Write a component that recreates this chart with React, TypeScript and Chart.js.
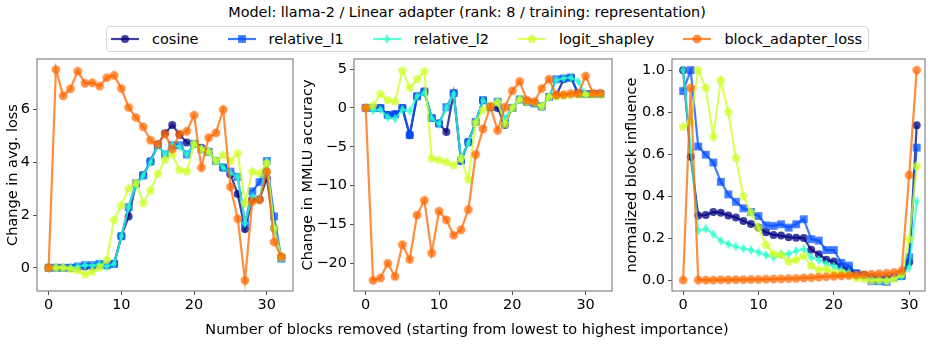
import React, { useEffect, useRef } from "react";
import { Chart, registerables } from "chart.js";

Chart.register(...registerables);

// ---------------- data ----------------
const blocks33 = Array.from({ length: 33 }, (_, i) => i);
const blocks32 = Array.from({ length: 32 }, (_, i) => i);

const seriesNames = ["cosine", "relative_l1", "relative_l2", "logit_shapley", "block_adapter_loss"];

// Panel 1: Change in avg. loss
const lossCosine = [0, 0, 0, 0, 0, 0.05, 0.05, 0.1, 0.1, 0.15, 1.2, 1.95, 3.18, 3.52, 4.03, 4.68, 5.1, 5.42, 5.05, 4.75, 4.7, 4.55, 4.4, 4.05, 3.8, 3.55, 2.8, 1.47, 2.6, 2.6, 3.4, 1.5, 0.4];
const lossL1 = [0, 0, 0, 0, 0.05, 0.1, 0.1, 0.15, 0.1, 0.15, 1.2, 2.3, 3.2, 3.5, 4.03, 4.65, 4.3, 4.65, 4.65, 4.3, 4.7, 4.5, 4.4, 4.05, 3.8, 3.65, 3.45, 1.7, 2.9, 3.25, 4.05, 1.95, 0.35];
const lossL2 = [0, 0, 0, 0, 0.05, 0.1, 0.08, 0.15, 0.05, 0.15, 1.2, 2.3, 3.15, 3.5, 4.0, 4.65, 4.3, 4.65, 4.6, 4.3, 4.7, 4.5, 4.4, 4.05, 3.8, 3.6, 3.45, 1.7, 2.7, 2.6, 4.0, 1.5, 0.35];
const lossShapley = [0, 0, 0, -0.05, -0.1, -0.25, -0.15, 0, 0.3, 1.82, 2.36, 3.0, 3.22, 2.45, 2.93, 3.56, 4.1, 4.3, 3.71, 3.65, 4.7, 4.5, 4.4, 4.05, 4.28, 4.05, 4.34, 2.45, 3.65, 3.57, 3.97, 1.5, 0.4];
const lossBlock = [0, 7.52, 6.52, 6.79, 7.46, 7.0, 7.02, 6.89, 7.21, 7.3, 6.8, 6.08, 5.7, 5.35, 4.84, 4.68, 5.07, 4.5, 5.07, 5.18, 5.79, 3.8, 4.94, 5.12, 6.0, 3.07, 1.86, -0.48, 2.52, 2.57, 3.65, 0.98, 0.42];

// Panel 2: Change in MMLU accuracy
const mmluCosine = [0, 0, 0, -0.9, -0.8, 0, -3.5, 1.5, 2.1, -1.3, -2.0, -3.1, 1.9, -6.8, -4.4, -1.8, 1.0, 0.1, 0.0, -2.2, 0, 1.1, 0.8, 0.6, 0.2, 1.4, 1.6, 3.7, 3.9, 1.8, 1.8, 1.8, 1.8];
const mmluL1 = [0, 0, 0, -0.9, -0.8, 0, -3.5, 1.5, 2.1, -1.3, -2.0, 0.1, 1.9, -6.8, -4.4, -1.8, 1.0, 0.1, 0.8, -1.5, 0, 1.1, 0.8, 0.6, 0.2, 1.4, 3.7, 3.8, 3.9, 1.9, 1.8, 1.8, 1.8];
const mmluL2 = [0, -0.3, -0.2, -1.2, -1.4, -0.2, -0.4, 1.5, 2.0, -1.3, -2.1, 0.0, 1.8, -6.6, -4.5, -1.8, 1.0, 0.1, 0.8, -1.4, 0.0, 1.1, 0.8, 0.6, 0.2, 1.4, 3.6, 3.8, 3.9, 3.4, 1.8, 1.8, 1.8];
const mmluShapley = [0, 0.3, 1.8, 1.0, 0.8, 4.8, 2.6, 3.7, 4.7, -6.5, -6.7, -7.0, -7.4, -6.5, -9.2, -1.9, -0.3, 0.2, 0.7, -2.1, 0.0, 1.1, 0.8, 0.7, 0.2, 1.4, 1.5, 1.6, 1.7, 1.7, 1.7, 1.7, 1.7];
const mmluBlock = [0, -22.2, -21.9, -20.0, -21.7, -17.6, -19.5, -13.8, -11.9, -18.7, -13.3, -14.4, -16.4, -15.7, -13.1, -6.0, -2.7, 0.2, -2.9, 0.1, 2.2, 3.4, 1.0, 0.8, 2.5, 3.7, 1.7, 1.7, 1.85, 1.9, 4.1, 1.9, 1.9];

// Panel 3: normalized block influence
const inflCosine = [1.0, 0.587, 0.308, 0.31, 0.324, 0.321, 0.308, 0.298, 0.281, 0.267, 0.251, 0.228, 0.215, 0.212, 0.204, 0.202, 0.2, 0.145, 0.123, 0.097, 0.088, 0.065, 0.05, 0.03, 0.024, 0.013, 0.008, 0.008, 0.013, 0.02, 0.085, 0.737];
const inflL1 = [0.9, 1.0, 0.636, 0.597, 0.56, 0.468, 0.408, 0.373, 0.342, 0.324, 0.305, 0.261, 0.258, 0.266, 0.25, 0.266, 0.29, 0.195, 0.188, 0.143, 0.143, 0.082, 0.069, 0.033, 0.022, -0.005, -0.005, -0.008, 0.014, 0.02, 0.109, 0.631];
const inflL2 = [1.0, 0.62, 0.235, 0.245, 0.219, 0.187, 0.171, 0.16, 0.151, 0.143, 0.132, 0.12, 0.108, 0.124, 0.124, 0.14, 0.148, 0.109, 0.096, 0.077, 0.065, 0.047, 0.036, 0.02, 0.016, 0.01, 0.0, -0.003, 0.01, 0.016, 0.06, 0.375];
const inflShapley = [0.73, 0.753, 1.0, 0.915, 0.683, 0.951, 0.8, 0.581, 0.4, 0.321, 0.25, 0.167, 0.124, 0.12, 0.088, 0.096, 0.115, 0.068, 0.049, 0.052, 0.036, 0.033, 0.024, 0.009, 0.005, -0.003, 0.0, -0.003, 0.005, 0.028, 0.194, 0.543];
const inflBlock = [0.0, 0.915, 0.0, 0.0, 0.0, 0.001, 0.001, 0.002, 0.002, 0.003, 0.003, 0.004, 0.005, 0.006, 0.007, 0.008, 0.01, 0.012, 0.014, 0.016, 0.018, 0.02, 0.022, 0.024, 0.026, 0.028, 0.03, 0.032, 0.036, 0.045, 0.5, 1.0];

const xTicks = [0, 10, 20, 30];
const lossTicks = [0, 2, 4, 6];
const mmluTicks = [-20, -15, -10, -5, 0, 5];
const inflTicks = [0.0, 0.2, 0.4, 0.6, 0.8, 1.0];

const titleText = "Model: llama-2 / Linear adapter (rank: 8 / training: representation)";
const xLabelText = "Number of blocks removed (starting from lowest to highest importance)";

// ---------------- style ----------------
const FONT = "'DejaVu Sans', sans-serif";
const FS = 14.5;
const ALPHA = 0.75;
const baseRGB = [
  [0, 0, 128],
  [0, 77, 255],
  [41, 255, 206],
  [206, 255, 41],
  [255, 104, 0],
];
const rgba = (c: number[], a: number) => `rgba(${c[0]},${c[1]},${c[2]},${a})`;
const colors = baseRGB.map((c) => rgba(c, ALPHA));
const shapes = ["circle", "square", "thinDiamond", "pentagon", "octagon"];

function polyPoints(shape: string, cx: number, cy: number): [number, number][] {
  if (shape === "square") {
    const h = 3.9;
    return [[cx - h, cy - h], [cx + h, cy - h], [cx + h, cy + h], [cx - h, cy + h]];
  }
  if (shape === "thinDiamond") {
    return [[cx, cy - 5.0], [cx + 3.1, cy], [cx, cy + 5.0], [cx - 3.1, cy]];
  }
  const n = shape === "pentagon" ? 5 : 8;
  const r = shape === "pentagon" ? 4.7 : 4.5;
  const off = shape === "pentagon" ? -Math.PI / 2 : Math.PI / 8;
  const pts: [number, number][] = [];
  for (let i = 0; i < n; i++) {
    const a = off + (i * 2 * Math.PI) / n;
    pts.push([cx + r * Math.cos(a), cy + r * Math.sin(a)]);
  }
  return pts;
}

function makeMarker(shape: string, color: string): HTMLCanvasElement | string {
  if (shape === "circle") return "circle";
  const c = document.createElement("canvas");
  c.width = 12;
  c.height = 12;
  const ctx = c.getContext("2d")!;
  ctx.fillStyle = color;
  ctx.beginPath();
  polyPoints(shape, 6, 6).forEach(([x, y], i) => (i === 0 ? ctx.moveTo(x, y) : ctx.lineTo(x, y)));
  ctx.closePath();
  ctx.fill();
  return c;
}

const framePlugin = {
  id: "frame",
  afterDraw(chart: any) {
    const { ctx, chartArea } = chart;
    const { left, top, right, bottom } = chartArea;
    ctx.save();
    ctx.strokeStyle = "#7a7a7a";
    ctx.lineWidth = 1.1;
    ctx.strokeRect(left, top, right - left, bottom - top);
    ctx.restore();
  },
};

type PanelCfg = {
  series: number[][];
  xs: number[];
  xMin: number;
  xMax: number;
  yMin: number;
  yMax: number;
  yTicks: number[];
  yFmt: (v: number) => string;
  yTitle: string;
  padLeft: number;
  axisW: number;
  right: number;
};

const TOP = 59;
const BOTTOM = 291;
const W = 934;
const H = 344;
const XAXIS_H = 30;

const fmtInt = (v: number) => (v < 0 ? "\u2212" + Math.abs(v) : String(v));
const fmt1 = (v: number) => (v < 0 ? "\u2212" + Math.abs(v).toFixed(1) : v.toFixed(1));

const panels: PanelCfg[] = [
  {
    series: [lossCosine, lossL1, lossL2, lossShapley, lossBlock],
    xs: blocks33,
    xMin: -1.6, xMax: 33.6,
    yMin: -0.88, yMax: 7.92,
    yTicks: lossTicks, yFmt: fmtInt,
    yTitle: "Change in avg. loss",
    padLeft: 5, axisW: 32, right: 293,
  },
  {
    series: [mmluCosine, mmluL1, mmluL2, mmluShapley, mmluBlock],
    xs: blocks33,
    xMin: -1.6, xMax: 33.6,
    yMin: -23.57, yMax: 6.3,
    yTicks: mmluTicks, yFmt: fmtInt,
    yTitle: "Change in MMLU accuracy",
    padLeft: 300, axisW: 54, right: 612,
  },
  {
    series: [inflCosine, inflL1, inflL2, inflShapley, inflBlock],
    xs: blocks32,
    xMin: -1.48, xMax: 32.1,
    yMin: -0.052, yMax: 1.053,
    yTicks: inflTicks, yFmt: fmt1,
    yTitle: "normalized block influence",
    padLeft: 624, axisW: 48, right: 925,
  },
];

function PanelChart({ cfg }: { cfg: PanelCfg }) {
  const ref = useRef<HTMLCanvasElement | null>(null);
  useEffect(() => {
    const canvas = ref.current!;
    const tickFont = { family: FONT, size: FS };
    const chart = new Chart(canvas, {
      type: "line",
      data: {
        datasets: cfg.series.map((vals, i) => ({
          label: seriesNames[i],
          data: vals.map((v, j) => ({ x: cfg.xs[j], y: v })),
          borderColor: colors[i],
          backgroundColor: colors[i],
          pointBackgroundColor: colors[i],
          pointBorderWidth: 0,
          pointRadius: 4,
          pointStyle: makeMarker(shapes[i], colors[i]) as any,
          borderWidth: 2.2,
          tension: 0,
          fill: false,
          order: 4 - i,
        })),
      },
      options: {
        responsive: false,
        animation: false,
        devicePixelRatio: 1,
        events: [],
        layout: {
          padding: { left: cfg.padLeft, right: W - cfg.right, top: TOP, bottom: H - BOTTOM - XAXIS_H },
        },
        plugins: { legend: { display: false }, tooltip: { enabled: false }, title: { display: false } },
        scales: {
          x: {
            type: "linear",
            min: cfg.xMin,
            max: cfg.xMax,
            afterBuildTicks: (s: any) => { s.ticks = xTicks.map((v) => ({ value: v })); },
            afterFit: (s: any) => { s.height = XAXIS_H; },
            ticks: { font: tickFont, color: "#000", padding: 2, maxRotation: 0, callback: (v: any) => fmtInt(Number(v)) },
            grid: { drawOnChartArea: false, drawTicks: true, tickLength: 4, color: "#555", lineWidth: 1 },
            border: { display: false },
          },
          y: {
            type: "linear",
            min: cfg.yMin,
            max: cfg.yMax,
            afterBuildTicks: (s: any) => { s.ticks = cfg.yTicks.map((v) => ({ value: v })); },
            afterFit: (s: any) => { s.width = cfg.axisW; },
            ticks: { font: tickFont, color: "#000", padding: 3, callback: (v: any) => cfg.yFmt(Number(v)) },
            grid: { drawOnChartArea: false, drawTicks: true, tickLength: 4, color: "#555", lineWidth: 1 },
            border: { display: false },
            title: { display: true, text: cfg.yTitle, color: "#000", font: { family: FONT, size: FS }, padding: 0 },
          },
        },
      },
      plugins: [framePlugin],
    } as any);
    return () => chart.destroy();
  }, [cfg]);
  return (
    <canvas
      ref={ref}
      width={W}
      height={H}
      style={{ position: "absolute", left: 0, top: 0, width: W, height: H }}
    />
  );
}

function LegendHandle({ i }: { i: number }) {
  const shape = shapes[i];
  const c = colors[i];
  const cx = 14, cy = 6;
  return (
    <svg width={28} height={12} style={{ display: "block" }}>
      <line x1={0} y1={cy} x2={28} y2={cy} stroke={c} strokeWidth={2.2} />
      {shape === "circle" ? (
        <circle cx={cx} cy={cy} r={4} fill={c} />
      ) : (
        <polygon points={polyPoints(shape, cx, cy).map((p) => p.join(",")).join(" ")} fill={c} />
      )}
    </svg>
  );
}

export default function App() {
  return (
    <div
      style={{
        position: "fixed",
        left: 0,
        top: 0,
        width: W,
        height: H,
        background: "#fff",
        fontFamily: FONT,
        color: "#000",
        overflow: "hidden",
      }}
    >
      <div style={{ position: "absolute", left: 0, top: 2, width: W, textAlign: "center", fontSize: 14.4, lineHeight: "20px" }}>
        {titleText}
      </div>
      <div
        style={{
          position: "absolute",
          left: 106,
          top: 26,
          height: 24,
          border: "1px solid #d6d6d6",
          borderRadius: 4,
          display: "flex",
          alignItems: "center",
          paddingLeft: 4,
          paddingRight: 6,
          fontSize: FS,
          whiteSpace: "nowrap",
        }}
      >
        {seriesNames.map((n, i) => (
          <div key={n} style={{ display: "flex", alignItems: "center", marginRight: i < 4 ? 29 : 0 }}>
            <LegendHandle i={i} />
            <span style={{ marginLeft: 13 }}>{n}</span>
          </div>
        ))}
      </div>
      {panels.map((p, i) => (
        <PanelChart key={i} cfg={p} />
      ))}
      <div style={{ position: "absolute", left: 0, top: 319, width: W, textAlign: "center", fontSize: FS, lineHeight: "20px" }}>
        {xLabelText}
      </div>
    </div>
  );
}
